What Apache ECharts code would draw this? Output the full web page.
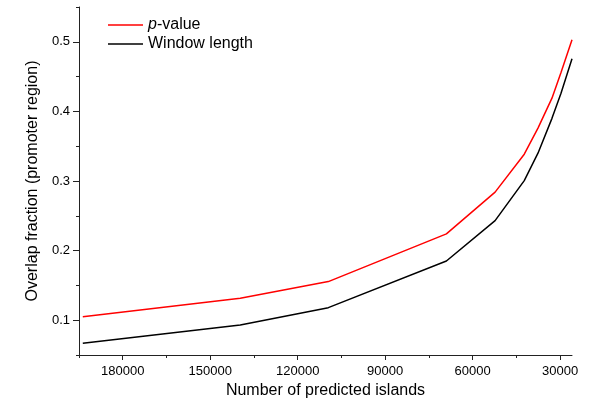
<!DOCTYPE html>
<html>
<head>
<meta charset="utf-8">
<script src="https://cdn.jsdelivr.net/npm/echarts@6/dist/echarts.min.js"></script>
<style>
html,body{margin:0;padding:0;background:#fff;}
#chart{width:600px;height:409px;}
</style>
</head>
<body>
<div id="chart"></div>
<script>
// Data
const islandsP = [193700, 139700, 109500, 69000, 52300, 42300, 37600, 32800, 29700, 25930];
const overlapP = [0.105, 0.1315, 0.1555, 0.224, 0.284, 0.3385, 0.376, 0.419, 0.456, 0.503];
const islandsW = [193700, 139700, 109500, 69000, 52300, 42300, 37600, 32800, 29700, 25930];
const overlapW = [0.067, 0.0932, 0.118, 0.185, 0.243, 0.3006, 0.34, 0.39, 0.426, 0.4755];
const xMajorTicks = [180000, 150000, 120000, 90000, 60000, 30000];
const xMinorTicks = [195000, 165000, 135000, 105000, 75000, 45000];
const yMajorTicks = [0.1, 0.2, 0.3, 0.4, 0.5];
const yMinorTicks = [0.05, 0.15, 0.25, 0.35, 0.45, 0.55];
const seriesNames = ['p-value', 'Window length'];

const FONT = 'Liberation Sans, Arial, Helvetica, sans-serif';
const XMIN = 25930, XMAX = 195000, YMIN = 0.05, YMAX = 0.55;
const axisColor = '#222';

const chart = echarts.init(document.getElementById('chart'), null, {renderer: 'canvas'});
const zip = (a, b) => a.map((v, i) => [v, b[i]]);

chart.setOption({
  animation: false,
  backgroundColor: '#fff',
  grid: {left: 79, right: 28, top: 7, bottom: 54, containLabel: false},
  legend: {
    orient: 'vertical',
    left: 108,
    top: 17,
    padding: 0,
    itemWidth: 35,
    itemHeight: 1.5,
    itemGap: 3,
    icon: 'rect',
    data: seriesNames.map(n => ({name: n, icon: 'rect'})),
    formatter: function (name) {
      return name === 'p-value' ? '{i|p}{n|-value}' : '{n|' + name + '}';
    },
    textStyle: {
      fontFamily: FONT, fontSize: 16, color: '#000', lineHeight: 16,
      rich: {
        i: {fontFamily: FONT, fontSize: 16, fontStyle: 'italic', color: '#000', lineHeight: 16},
        n: {fontFamily: FONT, fontSize: 16, color: '#000', lineHeight: 16}
      }
    }
  },
  xAxis: [
    {
      type: 'value', inverse: true, min: XMIN, max: XMAX,
      position: 'bottom',
      name: 'Number of predicted islands',
      nameLocation: 'middle', nameGap: 27,
      nameTextStyle: {fontFamily: FONT, fontSize: 16, color: '#000'},
      axisLine: {show: true, lineStyle: {color: axisColor, width: 1}},
      axisTick: {show: true, length: 5, inside: false, customValues: xMajorTicks, lineStyle: {color: axisColor}},
      axisLabel: {show: true, customValues: xMajorTicks, margin: 10, fontFamily: FONT, fontSize: 13, color: '#000',
        formatter: v => String(Math.round(v))},
      splitLine: {show: false}
    },
    {
      type: 'value', inverse: true, min: XMIN, max: XMAX,
      position: 'bottom',
      axisLine: {show: false},
      axisTick: {show: true, length: 3, inside: false, customValues: xMinorTicks, lineStyle: {color: axisColor}},
      axisLabel: {show: false},
      splitLine: {show: false}
    }
  ],
  yAxis: [
    {
      type: 'value', min: YMIN, max: YMAX,
      position: 'left',
      name: 'Overlap fraction (promoter region)',
      nameLocation: 'middle', nameGap: 35,
      nameTextStyle: {fontFamily: FONT, fontSize: 16, color: '#000'},
      axisLine: {show: true, lineStyle: {color: axisColor, width: 1}},
      axisTick: {show: true, length: 6, inside: false, customValues: yMajorTicks, lineStyle: {color: axisColor}},
      axisLabel: {show: true, customValues: yMajorTicks, margin: 9, fontFamily: FONT, fontSize: 13, color: '#000',
        formatter: v => v.toFixed(1)},
      splitLine: {show: false}
    },
    {
      type: 'value', min: YMIN, max: YMAX,
      position: 'left',
      axisLine: {show: false},
      axisTick: {show: true, length: 3, inside: false, customValues: yMinorTicks, lineStyle: {color: axisColor}},
      axisLabel: {show: false},
      splitLine: {show: false}
    }
  ],
  series: [
    {
      name: seriesNames[0], type: 'line', xAxisIndex: 0, yAxisIndex: 0,
      data: zip(islandsP, overlapP),
      symbol: 'none', showSymbol: false, smooth: false,
      lineStyle: {color: '#ff0000', width: 1.5},
      itemStyle: {color: '#ff0000'}
    },
    {
      name: seriesNames[1], type: 'line', xAxisIndex: 0, yAxisIndex: 0,
      data: zip(islandsW, overlapW),
      symbol: 'none', showSymbol: false, smooth: false,
      lineStyle: {color: '#000000', width: 1.5},
      itemStyle: {color: '#000000'}
    }
  ]
});
</script>
</body>
</html>
